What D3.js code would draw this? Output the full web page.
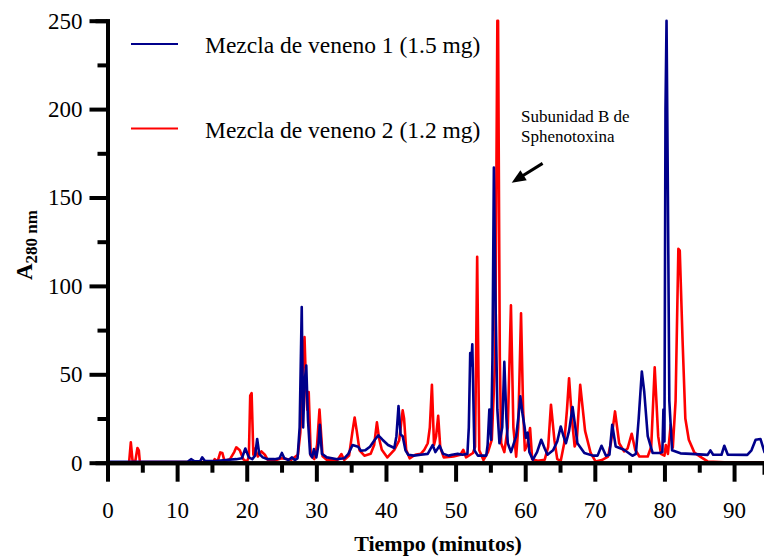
<!DOCTYPE html>
<html>
<head>
<meta charset="utf-8">
<script src="https://d3js.org/d3.v7.min.js"></script>
<style>
  body { margin: 0; background: #fff; }
</style>
</head>
<body>
<script>
const width = 764
const height = 556
const fontFamily = "'Liberation Serif', 'Times New Roman', serif"
const blueColor = "#00008b"
const redColor = "#ff0000"

// legend labels
const seriesNames = ["Mezcla de veneno 1 (1.5 mg)", "Mezcla de veneno 2 (1.2 mg)"]

// Mezcla 1 (blue) : time (min) / A280
const blueTime = [0, 3, 11.5, 12.0, 12.5, 13.3, 13.6, 14.0, 15.5, 17, 18.5, 19.3, 19.8, 20.3, 20.8, 21.2, 21.5, 21.8, 22.3, 23,
  24, 24.7, 25.05, 25.4, 26, 26.5, 26.9, 27.3, 27.6, 27.9, 28.1, 28.3, 28.55, 28.8, 29.1, 29.4, 29.65, 30.0, 30.3, 30.5,
  30.8, 31.5, 33, 34, 34.6, 35.2, 36, 36.4, 37, 37.7, 38.4, 38.9, 39.5, 40.3, 41.2, 41.5, 41.8, 42.1, 42.4, 42.8,
  43.2, 44, 45, 46, 46.7, 47.1, 47.7, 48.2, 49, 49.5, 50.3, 51, 51.7, 51.9, 52.1, 52.25, 52.4, 52.7, 53.2, 54.4,
  54.6, 54.85, 55.1, 55.3, 55.5, 55.7, 56.0, 56.3, 56.7, 57.0, 57.3, 57.5, 57.96, 58.7, 59.0, 59.3, 59.6, 59.9, 60.1, 60.35,
  60.6, 61.1, 61.7, 62.3, 62.8, 63.2, 64.0, 64.6, 65.1, 65.5, 65.85, 66.3, 66.8, 67.2, 67.5, 68.5, 69.7, 70.4, 70.96, 71.6,
  72.1, 72.5, 73.0, 74.2, 75.4, 75.9, 76.3, 76.75, 77.1, 77.6, 78.3, 79.3, 79.7, 79.85, 80.0, 80.15, 80.3, 80.5, 80.7, 81.1,
  82.3, 83.8, 86.2, 86.6, 87, 88.2, 88.6, 89.1, 91.9, 92.5, 93.1, 93.8, 94.4]
const blueAbs = [0.5, 0.5, 0.5, 2, 0.8, 0.8, 3, 1, 1, 1.5, 2, 2.5, 8, 3, 2, 4, 13.4, 5, 3, 2,
  2, 2.5, 5.5, 2.5, 1.5, 3, 1.5, 2.5, 20, 88, 20, 45, 55, 24, 5, 3, 7.7, 3, 10, 21.5,
  5, 3, 2, 2.5, 5, 10, 9, 6.8, 7, 9, 13, 15.5, 13, 10, 8.3, 15, 32, 16, 15, 7,
  4.5, 4, 4.5, 5, 10, 6, 9.6, 5, 4, 4.5, 5, 4.5, 5, 20, 62, 55, 67, 7, 4, 4,
  10, 30, 13, 60, 167, 100, 30, 11, 20, 57, 25, 11, 6, 15, 25, 37.5, 28, 20.5, 14, 17,
  6, 1.7, 6, 13, 8, 4.5, 7, 12, 20.5, 15, 11, 18, 31.5, 20, 11, 5.5, 4, 4, 9.6, 3.9,
  4.5, 21.5, 9.2, 7.3, 3.9, 5, 25, 51.6, 40, 15, 5.5, 5.5, 6, 30, 12, 200, 250, 150, 35, 7,
  5.3, 5, 4.4, 7, 4.5, 4.5, 9.6, 4.5, 4.4, 7, 13, 13.4, 5.5]

// Mezcla 2 (red) : time (min) / A280
const redTime = [0, 3.1, 3.35, 3.6, 4.0, 4.3, 4.5, 4.65, 15.2, 15.4, 15.8, 16.2, 16.5, 16.8, 17.6, 18.2, 18.5, 19, 19.5, 20.0,
  20.3, 20.5, 20.7, 20.95, 21.2, 21.6, 22.1, 22.6, 23, 24, 25, 26.4, 27.35, 27.7, 28.0, 28.3, 28.5, 28.7, 28.9, 29.2,
  29.7, 30.1, 30.45, 30.9, 31.6, 33, 33.6, 34, 34.7, 35.2, 35.5, 35.8, 36.2, 36.9, 37.8, 38.3, 38.7, 39.0, 39.4, 40.2,
  41.2, 41.9, 42.4, 42.6, 42.9, 43.4, 44.2, 45, 45.5, 46, 46.3, 46.6, 46.9, 47.2, 47.5, 47.8, 48.3, 49.7, 50.7, 51.1,
  51.5, 52.5, 52.8, 53.1, 53.4, 54, 54.65, 55.2, 55.7, 56.0, 56.1, 56.35, 56.55, 57.0, 57.5, 57.95, 58.3, 58.7, 59.0, 59.4,
  59.7, 59.95, 60.3, 60.7, 61.0, 61.8, 62.8, 63.3, 63.7, 64.2, 64.6, 65.1, 65.6, 66.0, 66.3, 66.7, 67.1, 67.4, 67.9, 68.6,
  69.4, 70.1, 71, 71.9, 72.3, 72.9, 73.5, 74.2, 74.7, 75.3, 75.8, 76.4, 77.6, 78.1, 78.6, 79.1, 79.5, 80.0, 80.2, 80.5,
  80.9, 81.2, 81.6, 82.0, 82.2, 82.6, 83.0, 83.5, 84.3, 85.3, 86.2, 88.6, 94.4]
const redAbs = [0, 0, 11.5, 1, 1, 8.3, 7, 0.3, 0.3, 2, 0.5, 5.8, 5.5, 1, 2, 6, 8.7, 7, 2, 0.5,
  3, 38, 39.4, 4.5, 8, 3.5, 6.4, 4.5, 1.7, 1.3, 2.5, 1.7, 4.5, 17, 50, 71, 45, 30, 40, 4,
  2, 10, 30, 3.6, 1.3, 1.3, 4.9, 1.5, 4, 18, 25.6, 18, 7, 4, 5, 10, 22.8, 14, 7.3, 3,
  7.3, 12.6, 29.6, 25, 7.3, 2.5, 4.5, 5, 7.3, 11, 20, 44, 10, 15, 26.5, 8.5, 3, 3.5, 4.5, 7.3,
  3, 5.5, 9, 116.5, 7, 1.5, 6, 13, 60, 250, 250, 60, 11, 6, 20, 89, 20, 3.4, 20, 84.5,
  30, 7, 10, 19.6, 2, 1.1, 1.7, 9, 32.8, 12.6, 2, 1, 11, 30, 47.8, 25, 9.2, 12, 44, 18,
  5.5, 0.7, 1.5, 3.5, 11, 29, 11, 6.4, 8, 16.4, 7.3, 3.5, 3.5, 9, 54, 15, 5, 4, 10, 5,
  21.5, 8.5, 35, 121, 120, 69.5, 25, 13, 5.7, 3, 0.7, 0.2, 0.2]

const xMajorTicks = [0, 10, 20, 30, 40, 50, 60, 70, 80, 90]
const xMinorTicks = [5, 15, 25, 35, 45, 55, 65, 75, 85]
const yMajorTicks = [0, 50, 100, 150, 200, 250]
const yMinorTicks = [25, 75, 125, 175, 225]
const annotationLines = ["Subunidad B de", "Sphenotoxina"]

const x = d3.scaleLinear().domain([0, 94.3]).range([107.5, 764])
const y = d3.scaleLinear().domain([0, 250]).range([462.7, 20.7])

const svg = d3.select("body").append("svg")
  .attr("width", width).attr("height", height)
  .style("font-family", fontFamily)

function drawAxes() {
  // minor ticks
  svg.append("g").attr("transform", `translate(0,${y(0)})`)
    .call(d3.axisBottom(x).tickValues(xMinorTicks).tickSize(10).tickFormat(""))
  svg.append("g").attr("transform", `translate(${x(0)},0)`)
    .call(d3.axisLeft(y).tickValues(yMinorTicks).tickSize(10).tickFormat(""))

  // major ticks with labels
  svg.append("g").attr("class", "xaxis").attr("transform", `translate(0,${y(0)})`)
    .call(d3.axisBottom(x).tickValues(xMajorTicks).tickSize(19).tickSizeOuter(0).tickPadding(20))
  svg.append("g").attr("class", "yaxis").attr("transform", `translate(${x(0)},0)`)
    .call(d3.axisLeft(y).tickValues(yMajorTicks).tickSize(18).tickSizeOuter(0).tickPadding(7))

  svg.selectAll(".tick line, .domain")
    .attr("stroke", "black").attr("stroke-width", 4)
  svg.selectAll(".domain").attr("stroke-linecap", "square")
  svg.selectAll(".tick text")
    .style("font-family", fontFamily)
    .style("font-size", "23px")
    .attr("fill", "black")
}

function drawSeries(times, values, color) {
  const line = d3.line()
    .x(d => x(d[0]))
    .y(d => y(d[1]))
  svg.append("path")
    .datum(times.map((t, i) => [t, values[i]]))
    .attr("d", line)
    .attr("fill", "none")
    .attr("stroke", color)
    .attr("stroke-width", 2.6)
    .attr("stroke-linejoin", "round")
}

function drawLegend() {
  const items = [{ name: seriesNames[0], color: blueColor, y: 44 },
                 { name: seriesNames[1], color: redColor, y: 128.5 }]
  const g = svg.append("g")
  items.forEach(it => {
    g.append("line")
      .attr("x1", 131).attr("x2", 178)
      .attr("y1", it.y).attr("y2", it.y)
      .attr("stroke", it.color).attr("stroke-width", 2)
    g.append("text")
      .attr("x", 205).attr("y", it.y + 9)
      .style("font-size", "23.5px")
      .text(it.name)
  })
}

function drawTitles() {
  svg.append("text")
    .attr("x", 438).attr("y", 551)
    .attr("text-anchor", "middle")
    .style("font-size", "22px").style("font-weight", "bold")
    .text("Tiempo (minutos)")

  const yt = svg.append("text")
    .attr("transform", "translate(32,245) rotate(-90)")
    .attr("text-anchor", "middle")
    .style("font-weight", "bold")
  yt.append("tspan").style("font-size", "23px").text("A")
  yt.append("tspan").style("font-size", "17px").attr("dy", 5).text("280 nm")
}

function drawAnnotation() {
  const tx = x(59.4), ty = y(192.9)
  annotationLines.forEach((s, i) => {
    svg.append("text")
      .attr("x", tx).attr("y", ty + i * 20)
      .style("font-size", "17px")
      .text(s)
  })
  // arrow pointing at the peak
  const x0 = x(62.5), y0 = y(169.3), x1 = x(58.06), y1 = y(158.4)
  const dx = x1 - x0, dy = y1 - y0, len = Math.hypot(dx, dy)
  const ux = dx / len, uy = dy / len
  const headLen = 14, headW = 6
  const bx = x1 - ux * headLen, by = y1 - uy * headLen
  svg.append("line")
    .attr("x1", x0).attr("y1", y0).attr("x2", bx + ux * 2).attr("y2", by + uy * 2)
    .attr("stroke", "black").attr("stroke-width", 3)
  svg.append("path")
    .attr("d", `M${x1},${y1}L${bx - uy * headW},${by + ux * headW}L${bx + uy * headW},${by - ux * headW}Z`)
    .attr("fill", "black")
}

drawSeries(redTime, redAbs, redColor)
drawSeries(blueTime, blueAbs, blueColor)
drawAxes()
drawLegend()
drawTitles()
drawAnnotation()
</script>
</body>
</html>
